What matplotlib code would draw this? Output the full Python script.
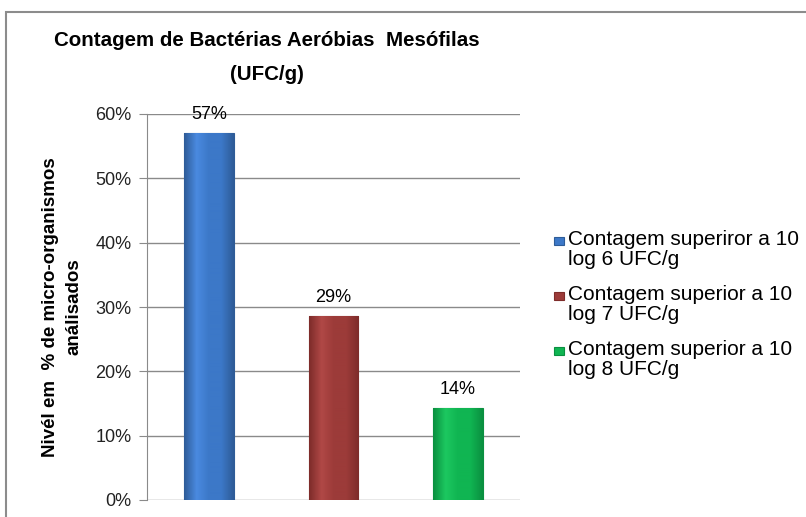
import numpy as np
import matplotlib
matplotlib.use("Agg")
import matplotlib.pyplot as plt
from matplotlib.patches import Rectangle
from matplotlib.colors import LinearSegmentedColormap

plt.rcParams['font.family'] = ['Liberation Sans', 'DejaVu Sans']

# data
categories = ["Contagem superiror a 10\nlog 6 UFC/g",
              "Contagem superior a 10\nlog 7 UFC/g",
              "Contagem superior a 10\nlog 8 UFC/g"]
values = [57.1, 28.6, 14.3]
labels = ["57%", "29%", "14%"]
yticks = [0, 10, 20, 30, 40, 50, 60]

colors = ["#3C78C8", "#9C3B39", "#10B552"]
dark = ["#2E5C98", "#7E2C2A", "#0A9040"]
light = ["#4A8AE0", "#B04846", "#1CC860"]

W, H = 806, 517
fig = plt.figure(figsize=(W / 100, H / 100), dpi=100)
fig.patch.set_facecolor("white")

# chart frame (cut off at right/bottom like the reference)
fig.add_artist(Rectangle((6 / W, -0.1), 1.2, 1 - 12 / H + 0.1, transform=fig.transFigure,
                         fill=False, edgecolor="#8c8c8c", linewidth=1.5))

ax = fig.add_axes([147 / W, 1 - 500 / H, 373 / W, 386 / H])
x = np.arange(len(values))
bars = ax.bar(x, values, width=0.4, color=colors, edgecolor=dark, linewidth=0.8, zorder=3)

# shading across each bar
for b, c, d, l in zip(bars, colors, dark, light):
    cmap = LinearSegmentedColormap.from_list("g", [d, l, c, c, d])
    grad = np.linspace(0, 1, 100).reshape(1, -1)
    im = ax.imshow(grad, cmap=cmap, aspect="auto", zorder=3.5,
                   extent=[b.get_x(), b.get_x() + b.get_width(), 0, b.get_height()])
    im.set_clip_path(b)

for xi, v, lab in zip(x, values, labels):
    ax.text(xi, v + 1.5, lab, ha="center", va="bottom", fontsize=13, zorder=5)

ax.set_xlim(-0.5, 2.5)
ax.set_ylim(0, 60)
ax.set_yticks(yticks)
ax.set_yticklabels([f"{t}%" for t in yticks], fontsize=13, color="#222222")
ax.set_xticks([])
ax.grid(axis="y", color="#8a8a8a", linewidth=1, zorder=0)
for s in ["top", "right", "bottom"]:
    ax.spines[s].set_visible(False)
ax.spines["left"].set_color("#8a8a8a")
ax.tick_params(axis="y", length=6, color="#8a8a8a", pad=5)

ax.set_ylabel("Nivél em  % de micro-organismos\nanálisados", fontsize=13.5,
              fontweight="bold", labelpad=9, linespacing=1.5)

fig.text(267 / W, 1 - 40 / H, "Contagem de Bactérias Aeróbias  Mesófilas",
         ha="center", va="center", fontsize=14.8, fontweight="bold")
fig.text(267 / W, 1 - 74 / H, "(UFC/g)", ha="center", va="center",
         fontsize=14.8, fontweight="bold")

# legend, drawn by hand so the square sits on the first line
for i, (lab, c, d) in enumerate(zip(categories, colors, dark)):
    yc = 241 + 55 * i
    fig.add_artist(Rectangle((554 / W, 1 - (yc + 4) / H), 10 / W, 8 / H,
                             transform=fig.transFigure, facecolor=c, edgecolor=d, linewidth=0.8))
    fig.text(568 / W, 1 - (yc - 11) / H, lab, ha="left", va="top",
             fontsize=15, linespacing=1.08)

fig.savefig("out.png", dpi=100)
